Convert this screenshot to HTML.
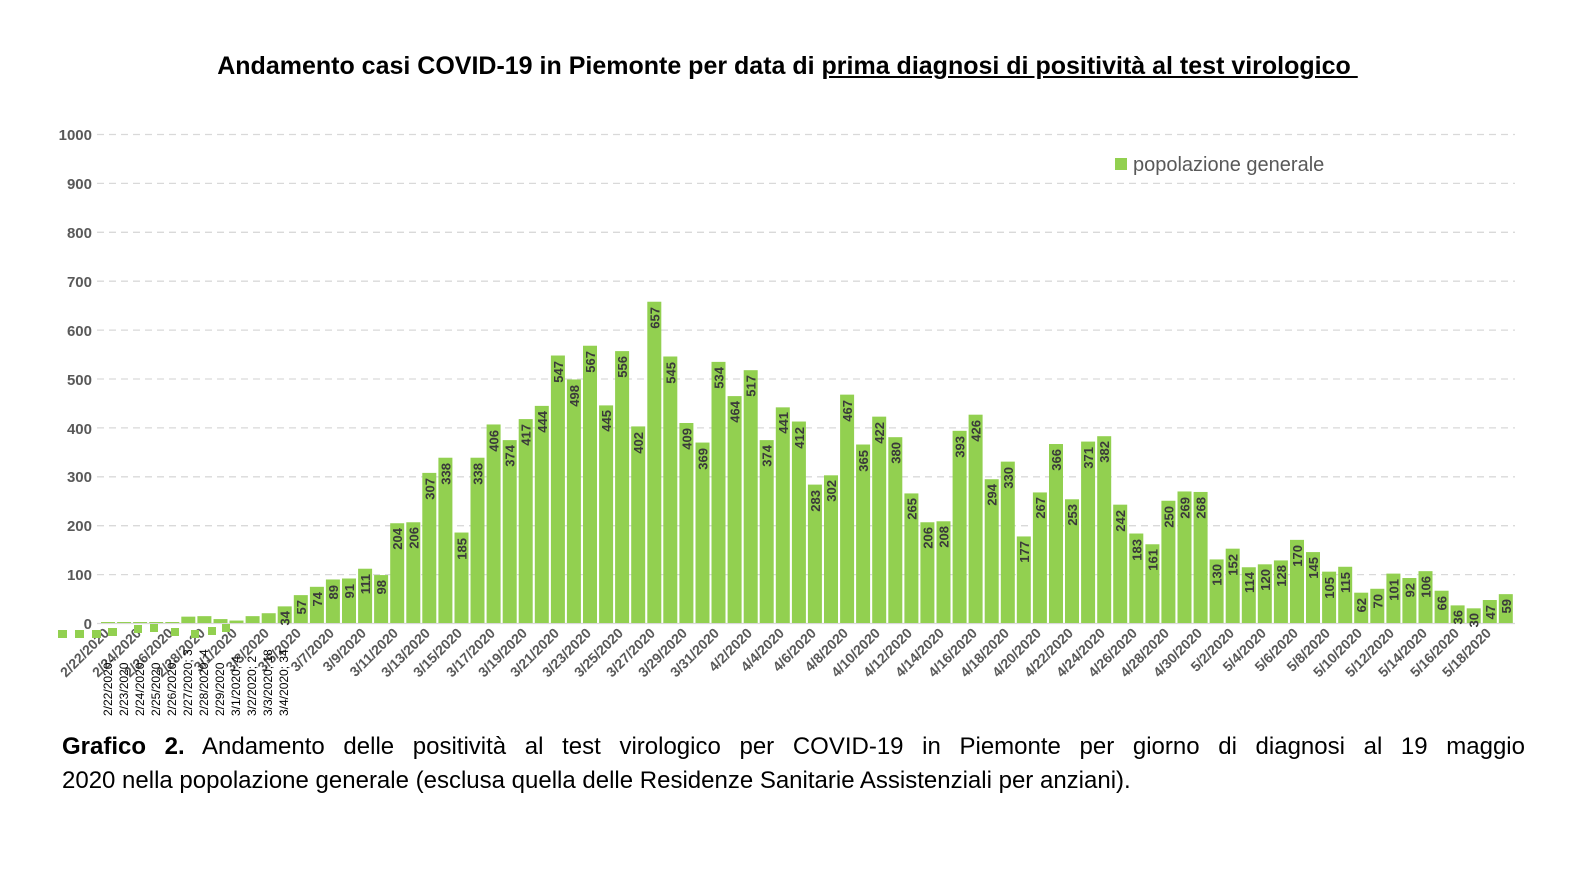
<!DOCTYPE html>
<html><head><meta charset="utf-8"><style>
html,body{margin:0;padding:0;background:#fff;}
body{width:1582px;height:896px;position:relative;overflow:hidden;font-family:"Liberation Sans",sans-serif;}
.title{position:absolute;left:0;width:1575px;top:52px;text-align:center;font-weight:bold;font-size:25px;color:#000;}
.cap{position:absolute;left:62px;width:1463px;font-size:24px;line-height:34px;color:#000;white-space:nowrap;}
.l1{top:730px;text-align:justify;text-align-last:justify;white-space:normal;}
.l2{top:764px;}
</style></head><body>
<div class="title">Andamento casi COVID-19 in Piemonte per data di <u>prima diagnosi di positività al test virologico&nbsp;</u></div>
<svg width="1582" height="896" style="position:absolute;left:0;top:0" xmlns="http://www.w3.org/2000/svg">
<g stroke="#d9d9d9" stroke-width="1.3" stroke-dasharray="7,5">
<line x1="97" x2="1515" y1="134.5" y2="134.5"/><line x1="97" x2="1515" y1="183.4" y2="183.4"/><line x1="97" x2="1515" y1="232.3" y2="232.3"/><line x1="97" x2="1515" y1="281.2" y2="281.2"/><line x1="97" x2="1515" y1="330.1" y2="330.1"/><line x1="97" x2="1515" y1="379" y2="379"/><line x1="97" x2="1515" y1="427.9" y2="427.9"/><line x1="97" x2="1515" y1="476.8" y2="476.8"/><line x1="97" x2="1515" y1="525.7" y2="525.7"/><line x1="97" x2="1515" y1="574.6" y2="574.6"/>
</g>
<line x1="97" x2="1515" y1="623.5" y2="623.5" stroke="#d9d9d9" stroke-width="1.3"/>
<g font-size="15" font-weight="bold" fill="#595959" text-anchor="end">
<text x="92" y="140">1000</text><text x="92" y="189">900</text><text x="92" y="238">800</text><text x="92" y="287">700</text><text x="92" y="336">600</text><text x="92" y="385">500</text><text x="92" y="434">400</text><text x="92" y="482">300</text><text x="92" y="531">200</text><text x="92" y="580">100</text><text x="92" y="629">0</text>
</g>
<g transform="translate(0,623) scale(1,-0.489)" fill="#92d050">
<rect x="101.0" width="14" height="2"/><rect x="117.1" width="14" height="2"/><rect x="133.1" width="14" height="2"/><rect x="149.2" width="14" height="2"/><rect x="165.3" width="14" height="2"/>
<rect x="181.3" width="14" height="13"/><rect x="197.4" width="14" height="14"/><rect x="213.5" width="14" height="8"/><rect x="229.5" width="14" height="5"/><rect x="245.6" width="14" height="14"/><rect x="261.7" width="14" height="20"/><rect x="277.7" width="14" height="34"/>
<rect x="293.8" width="14" height="57"/><rect x="309.9" width="14" height="74"/><rect x="325.9" width="14" height="89"/><rect x="342.0" width="14" height="91"/><rect x="358.1" width="14" height="111"/><rect x="374.1" width="14" height="98"/><rect x="390.2" width="14" height="204"/><rect x="406.3" width="14" height="206"/>
<rect x="422.3" width="14" height="307"/><rect x="438.4" width="14" height="338"/><rect x="454.5" width="14" height="185"/><rect x="470.5" width="14" height="338"/><rect x="486.6" width="14" height="406"/><rect x="502.7" width="14" height="374"/><rect x="518.7" width="14" height="417"/><rect x="534.8" width="14" height="444"/><rect x="550.9" width="14" height="547"/><rect x="566.9" width="14" height="498"/>
<rect x="583.0" width="14" height="567"/><rect x="599.1" width="14" height="445"/><rect x="615.1" width="14" height="556"/><rect x="631.2" width="14" height="402"/><rect x="647.3" width="14" height="657"/><rect x="663.3" width="14" height="545"/><rect x="679.4" width="14" height="409"/><rect x="695.5" width="14" height="369"/><rect x="711.5" width="14" height="534"/><rect x="727.6" width="14" height="464"/>
<rect x="743.7" width="14" height="517"/><rect x="759.7" width="14" height="374"/><rect x="775.8" width="14" height="441"/><rect x="791.9" width="14" height="412"/><rect x="807.9" width="14" height="283"/><rect x="824.0" width="14" height="302"/><rect x="840.1" width="14" height="467"/><rect x="856.1" width="14" height="365"/><rect x="872.2" width="14" height="422"/><rect x="888.3" width="14" height="380"/>
<rect x="904.4" width="14" height="265"/><rect x="920.4" width="14" height="206"/><rect x="936.5" width="14" height="208"/><rect x="952.6" width="14" height="393"/><rect x="968.6" width="14" height="426"/><rect x="984.7" width="14" height="294"/><rect x="1000.8" width="14" height="330"/><rect x="1016.8" width="14" height="177"/><rect x="1032.9" width="14" height="267"/><rect x="1049.0" width="14" height="366"/>
<rect x="1065.0" width="14" height="253"/><rect x="1081.1" width="14" height="371"/><rect x="1097.2" width="14" height="382"/><rect x="1113.2" width="14" height="242"/><rect x="1129.3" width="14" height="183"/><rect x="1145.4" width="14" height="161"/><rect x="1161.4" width="14" height="250"/><rect x="1177.5" width="14" height="269"/><rect x="1193.6" width="14" height="268"/><rect x="1209.6" width="14" height="130"/>
<rect x="1225.7" width="14" height="152"/><rect x="1241.8" width="14" height="114"/><rect x="1257.8" width="14" height="120"/><rect x="1273.9" width="14" height="128"/><rect x="1290.0" width="14" height="170"/><rect x="1306.0" width="14" height="145"/><rect x="1322.1" width="14" height="105"/><rect x="1338.2" width="14" height="115"/><rect x="1354.2" width="14" height="62"/><rect x="1370.3" width="14" height="70"/>
<rect x="1386.4" width="14" height="101"/><rect x="1402.4" width="14" height="92"/><rect x="1418.5" width="14" height="106"/><rect x="1434.6" width="14" height="66"/><rect x="1450.6" width="14" height="36"/><rect x="1466.7" width="14" height="30"/><rect x="1482.8" width="14" height="47"/><rect x="1498.8" width="14" height="59"/>
</g>
<g font-size="13" font-weight="bold" fill="#3a3a3a" text-anchor="end">
<text transform="translate(289.7,611) rotate(-90)">34</text>
<text transform="translate(305.8,600) rotate(-90)">57</text>
<text transform="translate(321.9,592) rotate(-90)">74</text>
<text transform="translate(337.9,585) rotate(-90)">89</text>
<text transform="translate(354,584) rotate(-90)">91</text>
<text transform="translate(370.1,574) rotate(-90)">111</text>
<text transform="translate(386.1,580) rotate(-90)">98</text>
<text transform="translate(402.2,528) rotate(-90)">204</text>
<text transform="translate(418.3,527) rotate(-90)">206</text>
<text transform="translate(434.3,478) rotate(-90)">307</text>
<text transform="translate(450.4,463) rotate(-90)">338</text>
<text transform="translate(466.5,538) rotate(-90)">185</text>
<text transform="translate(482.5,463) rotate(-90)">338</text>
<text transform="translate(498.6,430) rotate(-90)">406</text>
<text transform="translate(514.7,445) rotate(-90)">374</text>
<text transform="translate(530.7,424) rotate(-90)">417</text>
<text transform="translate(546.8,411) rotate(-90)">444</text>
<text transform="translate(562.9,361) rotate(-90)">547</text>
<text transform="translate(578.9,385) rotate(-90)">498</text>
<text transform="translate(595,351) rotate(-90)">567</text>
<text transform="translate(611.1,410) rotate(-90)">445</text>
<text transform="translate(627.1,356) rotate(-90)">556</text>
<text transform="translate(643.2,432) rotate(-90)">402</text>
<text transform="translate(659.3,307) rotate(-90)">657</text>
<text transform="translate(675.3,362) rotate(-90)">545</text>
<text transform="translate(691.4,428) rotate(-90)">409</text>
<text transform="translate(707.5,448) rotate(-90)">369</text>
<text transform="translate(723.5,367) rotate(-90)">534</text>
<text transform="translate(739.6,401) rotate(-90)">464</text>
<text transform="translate(755.7,375) rotate(-90)">517</text>
<text transform="translate(771.7,445) rotate(-90)">374</text>
<text transform="translate(787.8,412) rotate(-90)">441</text>
<text transform="translate(803.9,427) rotate(-90)">412</text>
<text transform="translate(819.9,490) rotate(-90)">283</text>
<text transform="translate(836,480) rotate(-90)">302</text>
<text transform="translate(852.1,400) rotate(-90)">467</text>
<text transform="translate(868.1,450) rotate(-90)">365</text>
<text transform="translate(884.2,422) rotate(-90)">422</text>
<text transform="translate(900.3,442) rotate(-90)">380</text>
<text transform="translate(916.4,498) rotate(-90)">265</text>
<text transform="translate(932.4,527) rotate(-90)">206</text>
<text transform="translate(948.5,526) rotate(-90)">208</text>
<text transform="translate(964.6,436) rotate(-90)">393</text>
<text transform="translate(980.6,420) rotate(-90)">426</text>
<text transform="translate(996.7,484) rotate(-90)">294</text>
<text transform="translate(1012.8,467) rotate(-90)">330</text>
<text transform="translate(1028.8,541) rotate(-90)">177</text>
<text transform="translate(1044.9,497) rotate(-90)">267</text>
<text transform="translate(1061,449) rotate(-90)">366</text>
<text transform="translate(1077,504) rotate(-90)">253</text>
<text transform="translate(1093.1,447) rotate(-90)">371</text>
<text transform="translate(1109.2,441) rotate(-90)">382</text>
<text transform="translate(1125.2,510) rotate(-90)">242</text>
<text transform="translate(1141.3,539) rotate(-90)">183</text>
<text transform="translate(1157.4,549) rotate(-90)">161</text>
<text transform="translate(1173.4,506) rotate(-90)">250</text>
<text transform="translate(1189.5,497) rotate(-90)">269</text>
<text transform="translate(1205.6,497) rotate(-90)">268</text>
<text transform="translate(1221.6,564) rotate(-90)">130</text>
<text transform="translate(1237.7,554) rotate(-90)">152</text>
<text transform="translate(1253.8,572) rotate(-90)">114</text>
<text transform="translate(1269.8,569) rotate(-90)">120</text>
<text transform="translate(1285.9,565) rotate(-90)">128</text>
<text transform="translate(1302,545) rotate(-90)">170</text>
<text transform="translate(1318,557) rotate(-90)">145</text>
<text transform="translate(1334.1,577) rotate(-90)">105</text>
<text transform="translate(1350.2,572) rotate(-90)">115</text>
<text transform="translate(1366.2,598) rotate(-90)">62</text>
<text transform="translate(1382.3,594) rotate(-90)">70</text>
<text transform="translate(1398.4,579) rotate(-90)">101</text>
<text transform="translate(1414.4,583) rotate(-90)">92</text>
<text transform="translate(1430.5,576) rotate(-90)">106</text>
<text transform="translate(1446.6,596) rotate(-90)">66</text>
<text transform="translate(1462.6,610) rotate(-90)">36</text>
<text transform="translate(1478.7,613) rotate(-90)">30</text>
<text transform="translate(1494.8,605) rotate(-90)">47</text>
<text transform="translate(1510.8,599) rotate(-90)">59</text>
</g>
<g font-size="14" font-weight="bold" fill="#595959" text-anchor="end">
<text transform="translate(110,634) rotate(-45)">2/22/2020</text>
<text transform="translate(142,634) rotate(-45)">2/24/2020</text>
<text transform="translate(174,634) rotate(-45)">2/26/2020</text>
<text transform="translate(206,634) rotate(-45)">2/28/2020</text>
<text transform="translate(238,634) rotate(-45)">3/1/2020</text>
<text transform="translate(270,634) rotate(-45)">3/3/2020</text>
<text transform="translate(302,634) rotate(-45)">3/5/2020</text>
<text transform="translate(335,634) rotate(-45)">3/7/2020</text>
<text transform="translate(367,634) rotate(-45)">3/9/2020</text>
<text transform="translate(399,634) rotate(-45)">3/11/2020</text>
<text transform="translate(431,634) rotate(-45)">3/13/2020</text>
<text transform="translate(463,634) rotate(-45)">3/15/2020</text>
<text transform="translate(496,634) rotate(-45)">3/17/2020</text>
<text transform="translate(528,634) rotate(-45)">3/19/2020</text>
<text transform="translate(560,634) rotate(-45)">3/21/2020</text>
<text transform="translate(592,634) rotate(-45)">3/23/2020</text>
<text transform="translate(624,634) rotate(-45)">3/25/2020</text>
<text transform="translate(656,634) rotate(-45)">3/27/2020</text>
<text transform="translate(688,634) rotate(-45)">3/29/2020</text>
<text transform="translate(720,634) rotate(-45)">3/31/2020</text>
<text transform="translate(753,634) rotate(-45)">4/2/2020</text>
<text transform="translate(785,634) rotate(-45)">4/4/2020</text>
<text transform="translate(817,634) rotate(-45)">4/6/2020</text>
<text transform="translate(849,634) rotate(-45)">4/8/2020</text>
<text transform="translate(881,634) rotate(-45)">4/10/2020</text>
<text transform="translate(913,634) rotate(-45)">4/12/2020</text>
<text transform="translate(945,634) rotate(-45)">4/14/2020</text>
<text transform="translate(978,634) rotate(-45)">4/16/2020</text>
<text transform="translate(1010,634) rotate(-45)">4/18/2020</text>
<text transform="translate(1042,634) rotate(-45)">4/20/2020</text>
<text transform="translate(1074,634) rotate(-45)">4/22/2020</text>
<text transform="translate(1106,634) rotate(-45)">4/24/2020</text>
<text transform="translate(1138,634) rotate(-45)">4/26/2020</text>
<text transform="translate(1170,634) rotate(-45)">4/28/2020</text>
<text transform="translate(1203,634) rotate(-45)">4/30/2020</text>
<text transform="translate(1235,634) rotate(-45)">5/2/2020</text>
<text transform="translate(1267,634) rotate(-45)">5/4/2020</text>
<text transform="translate(1299,634) rotate(-45)">5/6/2020</text>
<text transform="translate(1331,634) rotate(-45)">5/8/2020</text>
<text transform="translate(1363,634) rotate(-45)">5/10/2020</text>
<text transform="translate(1395,634) rotate(-45)">5/12/2020</text>
<text transform="translate(1428,634) rotate(-45)">5/14/2020</text>
<text transform="translate(1460,634) rotate(-45)">5/16/2020</text>
<text transform="translate(1492,634) rotate(-45)">5/18/2020</text>
</g>
<g font-size="12" fill="#000" text-anchor="start">
<text transform="translate(112,716) rotate(-90)">2/22/2020;</text>
<text transform="translate(128,716) rotate(-90)">2/23/2020</text>
<text transform="translate(144,716) rotate(-90)">2/24/2020;</text>
<text transform="translate(160,716) rotate(-90)">2/25/2020</text>
<text transform="translate(176,716) rotate(-90)">2/26/2020;</text>
<text transform="translate(192,716) rotate(-90)">2/27/2020; 3</text>
<text transform="translate(208,716) rotate(-90)">2/28/2020; 4</text>
<text transform="translate(224,716) rotate(-90)">2/29/2020</text>
<text transform="translate(240,716) rotate(-90)">3/1/2020; 4</text>
<text transform="translate(256,716) rotate(-90)">3/2/2020; 2</text>
<text transform="translate(272,716) rotate(-90)">3/3/2020; 18</text>
<text transform="translate(288,716) rotate(-90)">3/4/2020; 34</text>
</g>
<g fill="#92d050">
<rect x="58" y="630" width="9" height="8"/><rect x="75" y="630" width="9" height="8"/><rect x="92" y="630" width="9" height="8"/><rect x="108" y="628" width="9" height="8"/><rect x="134" y="625" width="8" height="8"/><rect x="150" y="624" width="8" height="8"/><rect x="171" y="628" width="8" height="8"/><rect x="191" y="630" width="8" height="8"/><rect x="208" y="627" width="8" height="8"/><rect x="222" y="624" width="8" height="8"/>
</g>
<rect x="1115" y="158" width="12" height="12" fill="#92d050"/>
<text x="1133" y="171" font-size="20" fill="#595959">popolazione generale</text>
</svg>
<div class="cap l1"><b>Grafico 2.</b> Andamento delle positività al test virologico per COVID-19 in Piemonte per giorno di diagnosi al 19 maggio</div>
<div class="cap l2">2020 nella popolazione generale (esclusa quella delle Residenze Sanitarie Assistenziali per anziani).</div>
</body></html>
